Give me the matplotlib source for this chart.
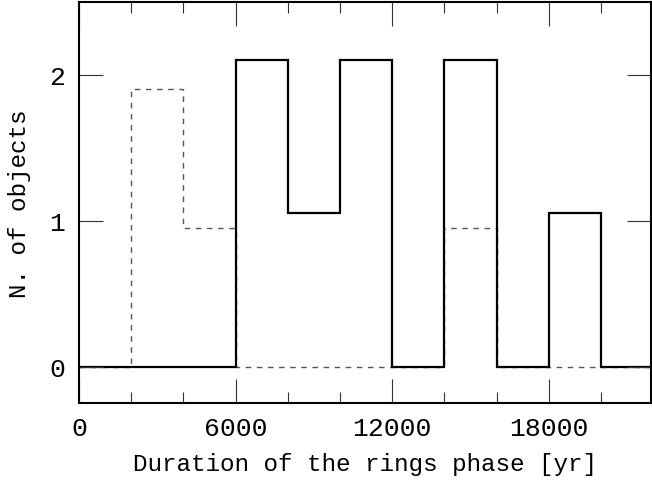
import matplotlib
matplotlib.use("Agg")
import matplotlib.pyplot as plt
from matplotlib.ticker import MultipleLocator

# bin edges [yr] and counts (offset slightly so the two histograms don't overlap)
edges = [0, 2000, 4000, 6000, 8000, 10000, 12000, 14000, 16000, 18000, 20000, 22000]
solid_n = [0, 0, 0, 2.1, 1.05, 2.1, 0, 2.1, 0, 1.05, 0]
dashed_n = [0, 1.9, 0.95, 0, 0, 0, 0, 0.95, 0, 0, 0]

plt.rcParams['font.family'] = ['Liberation Mono']

fig = plt.figure(figsize=(6.52, 4.81), dpi=100)
ax = fig.add_axes([0.121, 0.160, 0.877, 0.834])

ax.stairs(dashed_n, edges, color='#555555', lw=1.0, ls=(0, (4, 4)))
ax.stairs(solid_n, edges, color='black', lw=1.6)

ax.set_xlim(0, 21900)
ax.set_ylim(-0.25, 2.5)
ax.xaxis.set_major_locator(MultipleLocator(6000))
ax.xaxis.set_minor_locator(MultipleLocator(2000))
ax.set_yticks([0, 1, 2])
ax.tick_params(which='both', direction='in', top=True, right=True, labelsize=19, width=0.8, colors='#333333', labelcolor='black')
ax.tick_params(which='major', length=17)
ax.tick_params(axis='x', which='major', pad=9)
ax.tick_params(axis='y', which='major', pad=10)
ax.tick_params(which='minor', length=8)
for s in ax.spines.values():
    s.set_linewidth(1.5)

ax.set_xlabel('Duration of the rings phase [yr]', fontsize=17.5, labelpad=9)
ax.set_ylabel('N. of objects', fontsize=17.5, labelpad=13)

fig.savefig('out.png', dpi=100)
